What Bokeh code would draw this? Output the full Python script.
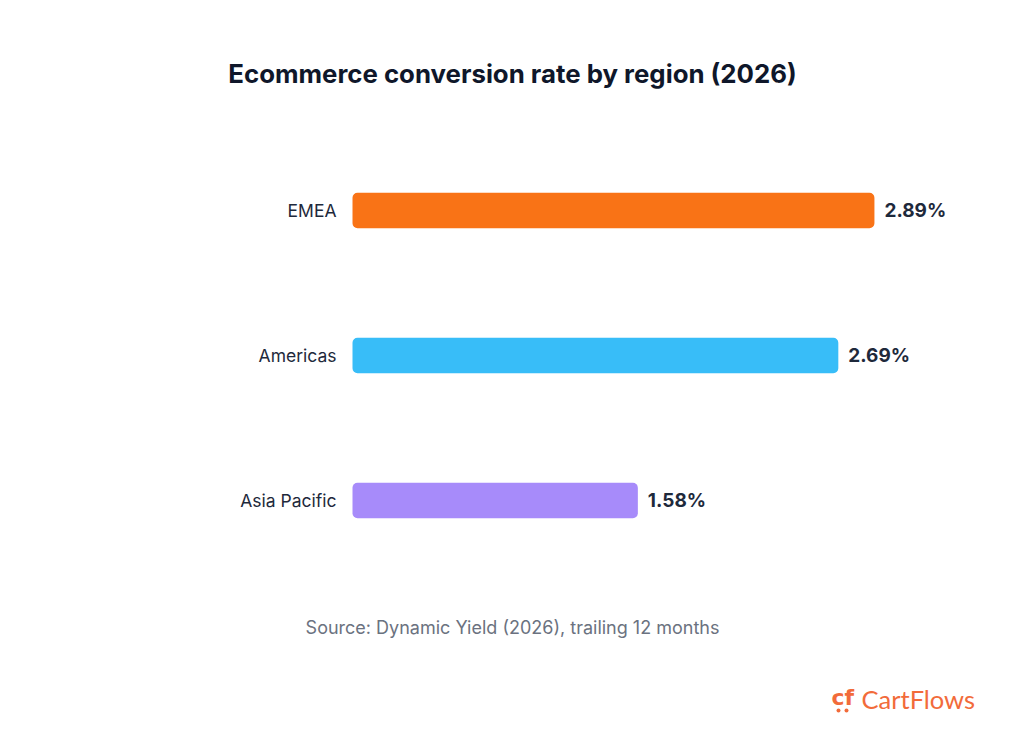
from bokeh.plotting import figure
from bokeh.models import Range1d, ColumnDataSource
from bokeh.core.properties import value
from bokeh.embed import file_html
from bokeh.resources import INLINE

# Chart data
regions = ["EMEA", "Americas", "Asia Pacific"]
rates = [2.89, 2.69, 1.58]
bar_colors = ["#F97316", "#38BDF8", "#A78BFA"]
rate_labels = [f"{r:.2f}%" for r in rates]

title_text = "Ecommerce conversion rate by region (2026)"
source_text = "Source: Dynamic Yield (2026), trailing 12 months"
brand_text = "CartFlows"

W, H = 1024, 737
FONT = "Inter"

# Canvas layout: the frame fills the whole page; one x unit = 1 percentage point
x_px_per_unit = 180.6
x_origin_px = 352
y_px_per_row = 145
first_row_px = 210


def px_x(px):
    return (px - x_origin_px) / x_px_per_unit


def px_y(px):
    return (px - first_row_px) / y_px_per_row


p = figure(
    width=W, height=H,
    x_range=Range1d(px_x(0), px_x(W)),
    y_range=Range1d(px_y(H), px_y(0)),
    x_axis_type=None, y_axis_type=None,
    toolbar_location=None, output_backend="svg",
    min_border=0, outline_line_color=None,
    background_fill_color="white", border_fill_color="white",
)
p.grid.visible = False

src = ColumnDataSource(dict(
    y=list(range(len(regions))),
    region=regions,
    rate=rates,
    color=bar_colors,
    label=rate_labels,
))

p.hbar(y="y", left=0, right="rate", height=0.245, source=src,
       fill_color="color", line_color=None, border_radius=5)

# Value labels at the bar ends
p.text(x="rate", y="y", text="label", source=src, x_offset=10,
       text_align="left", text_baseline="middle",
       text_font=value(FONT), text_font_style="bold",
       text_font_size="19px", text_color="#1E293B")

# Region names left of the bars
p.text(x=0, y="y", text="region", source=src, x_offset=-16,
       text_align="right", text_baseline="middle",
       text_font=value(FONT), text_font_size="17.5px", text_color="#1E293B")

# Title
p.text(x=[px_x(512)], y=[px_y(73)], text=[title_text],
       text_align="center", text_baseline="middle",
       text_font=value(FONT), text_font_style="bold",
       text_font_size="25.8px", text_color="#0F172A")

# Source note
p.text(x=[px_x(512)], y=[px_y(627)], text=[source_text],
       text_align="center", text_baseline="middle",
       text_font=value(FONT), text_font_size="18px", text_color="#6B7280")

# Brand mark
brand_color = "#F26B3A"
p.text(x=[px_x(831)], y=[px_y(697)], text=["cf"],
       text_align="left", text_baseline="middle",
       text_font=value("DejaVu Sans"), text_font_style="bold",
       text_font_size="22px", text_color=brand_color)
p.scatter(x=[px_x(838), px_x(846)], y=[px_y(710), px_y(710)], size=4,
          fill_color=brand_color, line_color=None)
p.text(x=[px_x(861)], y=[px_y(698)], text=[brand_text],
       text_align="left", text_baseline="middle",
       text_font=value("Lato"), text_font_size="25.5px", text_color=brand_color)

open("out.html", "w").write(file_html(p, INLINE))
